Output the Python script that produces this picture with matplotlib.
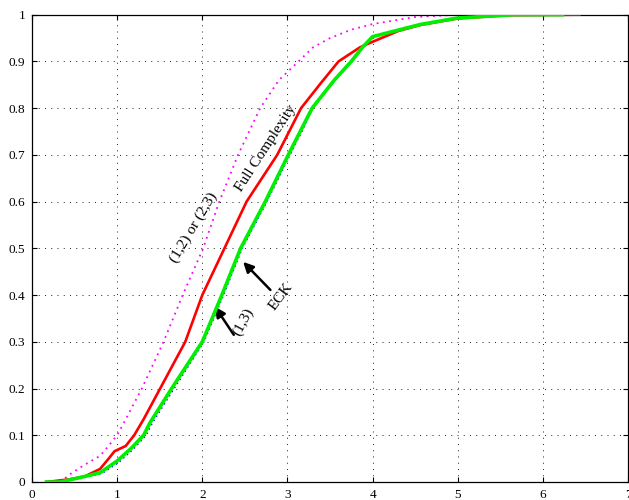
import matplotlib
matplotlib.use("Agg")
import matplotlib.pyplot as plt

plt.rcParams["font.family"] = ["Liberation Serif", "DejaVu Serif"]

# CDF curves (x value, cumulative probability)
pair_x = [0.33, 0.45, 0.6, 0.8, 0.88, 1.0, 1.1, 1.29, 1.545, 1.77, 2.01, 2.2,
          2.42, 2.68, 2.9, 3.13, 3.3, 3.5, 3.75, 4.0, 4.5, 5.0, 5.5]
pair_y = [0.0, 0.017, 0.035, 0.056, 0.073, 0.1, 0.134, 0.2, 0.3, 0.4, 0.5, 0.6,
          0.7, 0.8, 0.86, 0.9, 0.93, 0.95, 0.968, 0.98, 0.995, 1.0, 1.0]

full_x = [0.17, 0.45, 0.62, 0.8, 0.9, 0.97, 1.1, 1.2, 1.31, 1.505, 1.8, 2.0, 2.26,
          2.52, 2.88, 3.02, 3.16, 3.39, 3.6, 3.85, 4.0, 4.3, 4.56, 5.0, 5.6, 6.43]
full_y = [0.0, 0.006, 0.012, 0.028, 0.05, 0.066, 0.077, 0.1, 0.134, 0.2, 0.3, 0.4, 0.5,
          0.6, 0.7, 0.75, 0.8, 0.853, 0.9, 0.93, 0.942, 0.965, 0.978, 0.992, 0.999, 1.0]

eck_x = [0.17, 0.33, 0.6, 0.8, 1.0, 1.17, 1.31, 1.39, 1.64, 2.0, 2.23, 2.45, 2.74,
         3.01, 3.15, 3.29, 3.55, 3.75, 3.88, 4.0, 4.3, 4.56, 5.0, 5.66, 6.23]
eck_y = [0.0, 0.0, 0.011, 0.02, 0.045, 0.073, 0.1, 0.128, 0.2, 0.3, 0.4, 0.5, 0.6,
         0.7, 0.75, 0.8, 0.86, 0.9, 0.93, 0.953, 0.967, 0.979, 0.993, 1.0, 1.0]

one3_x = [0.17, 0.33, 0.62, 0.82, 1.02, 1.2, 1.34, 1.42, 1.67, 2.02, 2.25, 2.47, 2.76,
          3.03, 3.17, 3.3, 3.56, 3.76, 3.89, 4.0, 4.3, 4.56, 5.0, 5.66, 6.2]
one3_y = [0.0, 0.0, 0.01, 0.018, 0.042, 0.072, 0.1, 0.128, 0.2, 0.3, 0.4, 0.5, 0.6,
          0.7, 0.75, 0.8, 0.86, 0.9, 0.93, 0.952, 0.966, 0.979, 0.993, 1.0, 1.0]

xticks = [0, 1, 2, 3, 4, 5, 6, 7]
yticks = [0, 0.1, 0.2, 0.3, 0.4, 0.5, 0.6, 0.7, 0.8, 0.9, 1]
ytick_labels = ["0", "0.1", "0.2", "0.3", "0.4", "0.5", "0.6", "0.7", "0.8", "0.9", "1"]

fig = plt.figure(figsize=(6.29, 5.0), dpi=100)
ax = fig.add_axes([32 / 629, 18 / 500, 596 / 629, 467.3 / 500])

ax.plot(pair_x, pair_y, color="#ff00ff", lw=1.3, linestyle=(0, (1, 2.5)), zorder=2)
ax.plot(full_x, full_y, color="#ff0000", lw=1.9, zorder=3, solid_joinstyle="round")
ax.plot(one3_x, one3_y, color="#0000ff", lw=1.0, linestyle=(0, (1, 2.5)), zorder=3)
ax.plot(eck_x, eck_y, color="#00ee00", lw=2.6, zorder=4, solid_joinstyle="round")

ax.set_xlim(0, 7)
ax.set_ylim(0, 1)
ax.set_xticks(xticks)
ax.set_yticks(yticks)
ax.set_yticklabels(ytick_labels)
ax.grid(True, color="k", lw=0.6, linestyle=(0, (1.2, 6.3)))
ax.tick_params(direction="in", top=True, right=True, length=3.5, width=0.8,
               labelsize=9.5, pad=5)
for s in ax.spines.values():
    s.set_linewidth(0.9)

# curve labels
ax.text(1.9, 0.5435, "(1,2) or (2,3)", rotation=59, ha="center", va="center", fontsize=11)
ax.text(2.75, 0.713, "Full Complexity", rotation=57, ha="center", va="center", fontsize=11)
ax.text(2.92, 0.396, "ECK", rotation=53, ha="center", va="center", fontsize=11)
ax.text(2.48, 0.342, "(1,3)", rotation=62, ha="center", va="center", fontsize=11)

arrow = dict(arrowstyle="-|>", color="k", lw=1.8, mutation_scale=15,
             shrinkA=0, shrinkB=0)
ax.annotate("", xy=(2.48, 0.471), xytext=(2.80, 0.411), arrowprops=arrow)
ax.annotate("", xy=(2.15, 0.375), xytext=(2.37, 0.315), arrowprops=arrow)

fig.savefig("out.png", dpi=100, facecolor="white")
